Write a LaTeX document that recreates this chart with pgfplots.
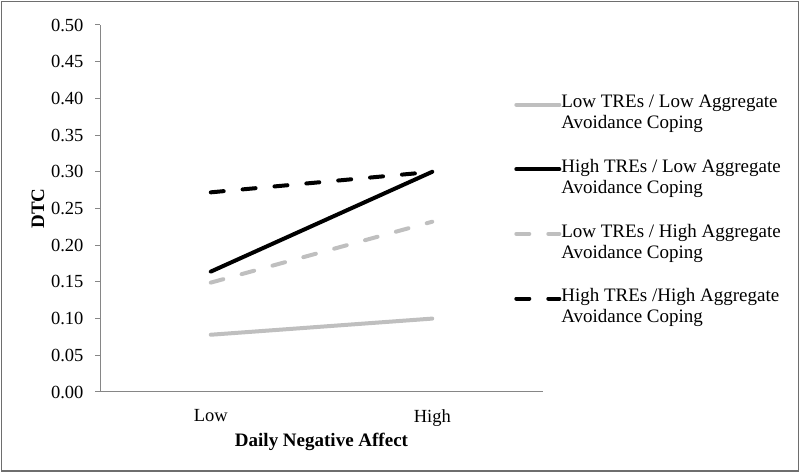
\documentclass[border=0pt]{standalone}
\usepackage{fontspec}
\setmainfont{Liberation Serif}
\usepackage{pgfplots}
\pgfplotsset{compat=1.18}
\definecolor{lgray}{RGB}{191,191,191}
\definecolor{axgray}{RGB}{134,134,134}
\definecolor{framegray}{RGB}{110,110,110}
\begin{document}
\begin{tikzpicture}
\useasboundingbox (0,0) rectangle (800pt,473pt);
\draw[color=framegray, line width=1.2pt] (1.5pt,2pt) rectangle (798.5pt,471.5pt);
\begin{axis}[
  at={(100pt,81pt)}, anchor=south west,
  scale only axis, width=443pt, height=367pt,
  xmin=0.5, xmax=2.5, ymin=0, ymax=0.5,
  axis lines*=left,
  axis line style={color=axgray, line width=1pt},
  xtick={1,2}, xticklabels={Low,High},
  x tick style={draw=none},
  ytick={0,0.05,0.1,0.15,0.2,0.25,0.3,0.35,0.4,0.45,0.5},
  y tick style={color=axgray, line width=1pt},
  tick align=outside, major tick length=5pt,
  yticklabel style={/pgf/number format/fixed, /pgf/number format/fixed zerofill, /pgf/number format/precision=2},
  /pgf/number format/assume math mode=true,
  tick label style={font=\fontsize{18.5}{22}\selectfont, black},
  xticklabel style={yshift=-9pt},
  yticklabel style={xshift=-8pt},
  xlabel={\textbf{Daily Negative Affect}},
  ylabel={\textbf{DTC}},
  label style={font=\fontsize{19}{22}\selectfont},
  xlabel style={yshift=0pt},
  ylabel style={yshift=0pt},
  legend cell align=left,
  legend style={at={(rel axis cs:0.928,0.82)}, anchor=north west, draw=none, fill=none,
    font=\fontsize{19}{21}\selectfont, nodes={align=left, inner xsep=0pt},
    row sep=25pt},
  legend image code/.code={\draw[#1] (0pt,8pt)--(43pt,8pt);},
]
\addplot[lgray, line width=4pt, line cap=round] coordinates {(1,0.078) (2,0.100)};
\addlegendentry{Low TREs / Low Aggregate\\Avoidance Coping}
\addplot[black, line width=4pt, line cap=round] coordinates {(1,0.164) (2,0.300)};
\addlegendentry{High TREs / Low Aggregate\\Avoidance Coping}
\addplot[lgray, line width=4pt, line cap=round, dash pattern=on 13pt off 19pt] coordinates {(1,0.149) (2,0.232)};
\addlegendentry{Low TREs / High Aggregate\\Avoidance Coping}
\addplot[black, line width=4pt, line cap=round, dash pattern=on 13pt off 19pt] coordinates {(1,0.272) (2,0.300)};
\addlegendentry{High TREs /High Aggregate\\Avoidance Coping}
\end{axis}
\end{tikzpicture}
\end{document}
